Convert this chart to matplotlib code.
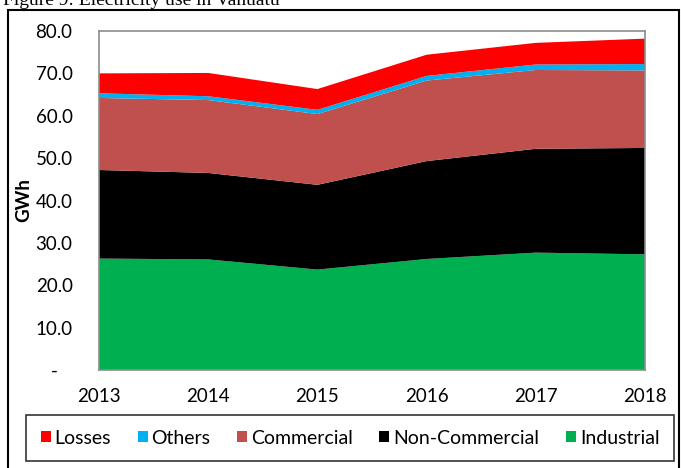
import matplotlib
matplotlib.use("Agg")
import matplotlib.pyplot as plt
from matplotlib.patches import Patch, Rectangle

years = [2013, 2014, 2015, 2016, 2017, 2018]
industrial = [26.3, 26.1, 23.7, 26.2, 27.7, 27.3]
non_commercial = [20.9, 20.4, 20.0, 23.1, 24.5, 25.1]
commercial = [17.0, 17.2, 16.7, 19.0, 18.6, 18.3]
others = [1.1, 0.9, 1.0, 1.1, 1.3, 1.5]
losses = [4.7, 5.5, 4.9, 5.0, 5.1, 6.0]

names = ["Industrial", "Non-Commercial", "Commercial", "Others", "Losses"]
colors = ["#00B050", "#000000", "#C0504D", "#00B0F0", "#FF0000"]
yticks = [0, 10, 20, 30, 40, 50, 60, 70, 80]
ylabels = ["-   "] + ["%.1f" % v for v in yticks[1:]]

font = "Lato"

fig = plt.figure(figsize=(6.81, 4.68), dpi=100)
ax = fig.add_axes([99 / 681, 1 - 370 / 468, 546 / 681, 339 / 468])

ax.stackplot(years, industrial, non_commercial, commercial, others, losses,
             colors=colors, labels=names, linewidth=0)

ax.set_xlim(2013, 2018)
ax.set_ylim(0, 80)
ax.set_yticks(yticks)
ax.set_yticklabels(ylabels, fontname=font, fontsize=13.5)
ax.set_xticks(years)
ax.set_xticklabels([str(y) for y in years], fontname=font, fontsize=13.5)
ax.tick_params(axis="y", length=0, pad=19)
ax.tick_params(axis="x", length=0, pad=13)
ax.set_ylabel("GWh", fontname=font, fontsize=13.5, fontweight="bold")
ax.yaxis.set_label_coords(-0.1227, 0.5)
for s in ax.spines.values():
    s.set_color("#8C8C8C")
    s.set_linewidth(1.2)

# legend, reversed order like the original
handles = [Patch(facecolor=c, edgecolor="none") for c in colors][::-1]
leg = fig.legend(handles, names[::-1], loc="center",
                 bbox_to_anchor=(350 / 681, 1 - 438 / 468), ncol=5,
                 frameon=True, fancybox=False, edgecolor="black",
                 prop={"family": font, "size": 14},
                 handlelength=0.52, handleheight=0.52, handletextpad=0.2,
                 columnspacing=1.36, borderpad=0.75)
leg.get_frame().set_linewidth(1.2)

# outer frame of the figure box
fig.patches.append(Rectangle((8 / 681, -0.02), 671 / 681, 1 - 10 / 468 + 0.02,
                             transform=fig.transFigure, fill=False,
                             edgecolor="black", linewidth=1.5))

fig.text(3 / 681, 1 - 5 / 468, "Figure 9: Electricity use in Vanuatu",
         fontname="Liberation Serif", fontsize=14, va="baseline", ha="left")

fig.savefig("out.png", dpi=100)
